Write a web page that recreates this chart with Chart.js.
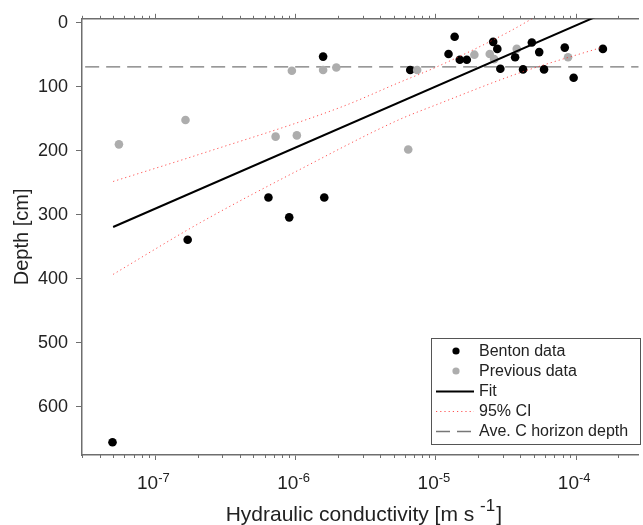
<!DOCTYPE html>
<html>
<head>
<meta charset="utf-8">
<script src="https://cdn.jsdelivr.net/npm/chart.js@4.4.1/dist/chart.umd.min.js"></script>
<style>
  body { margin: 0; background: #fff; }
</style>
</head>
<body>
<canvas id="chart_depth" width="643" height="525"></canvas>
<script>
var font_family = "'Liberation Sans', Arial, sans-serif";
var text_color = '#222';
var axis_color = '#6e6e6e';
var ci_color = 'rgba(255, 40, 40, 0.8)';

// hydraulic conductivity [m/s] and depth [cm]
var benton_k = [4.95e-8, 1.70e-7, 6.4e-7, 9.0e-7, 1.6e-6, 1.57e-6, 6.56e-6, 1.23e-5, 1.36e-5, 1.48e-5, 1.66e-5,
                2.56e-5, 2.74e-5, 2.88e-5, 3.67e-5, 4.18e-5, 4.83e-5, 5.45e-5, 5.90e-5, 8.29e-5, 9.59e-5, 1.55e-4];
var benton_depth = [655, 339, 273, 304, 273, 53, 74, 49, 22, 58, 58,
                    30, 41, 72, 54, 73, 31, 46, 73, 39, 86, 41];

var prev_k = [5.5e-8, 1.64e-7, 7.2e-7, 1.02e-6, 9.4e-7, 1.57e-6, 1.95e-6, 6.35e-6, 7.35e-6,
              1.88e-5, 2.42e-5, 2.60e-5, 3.77e-5, 8.75e-5];
var prev_depth = [190, 152, 178, 176, 75, 74, 70, 198, 74,
                  50, 49, 57, 41, 54];

var fit_k = [5e-8, 1.55e-4];
var fit_depth = [319, -14];

var ci_upper_k = [5e-8, 2.1e-7, 2.1e-6, 5.4e-6, 1.04e-5, 3.2e-5, 5.4e-5];
var ci_upper_depth = [248, 205, 132, 94, 68, 16, -12];
var ci_lower_k = [5e-8, 2.1e-7, 1.1e-6, 5.4e-6, 1.04e-5, 4.0e-5, 1.55e-4];
var ci_lower_depth = [393, 312, 228, 152, 127, 78, 38];

var c_horizon_depth = 69;

var x_min = 3.16e-8;
var x_max = 2.79e-4;
var x_decades = [1e-7, 1e-6, 1e-5, 1e-4];
var x_exponents = ['-7', '-6', '-5', '-4'];
var minor_steps = [2, 3, 4, 5, 6, 7, 8, 9];
var depth_ticks = [0, 100, 200, 300, 400, 500, 600];

var legend_labels = ['Benton data', 'Previous data', 'Fit', '95% CI', 'Ave. C horizon depth'];

function xy(xs, ys) {
  var pts = [];
  for (var i = 0; i < xs.length; i++) {
    pts.push({x: xs[i], y: ys[i]});
  }
  return pts;
}

// short ticks between decades, bottom and top
var minor_ticks = {
  id: 'minor_ticks',
  afterDraw: function (chart) {
    var ctx = chart.ctx;
    var xs = chart.scales.x;
    var area = chart.chartArea;
    ctx.save();
    ctx.strokeStyle = axis_color;
    ctx.lineWidth = 1;
    for (var d = -9; d <= -3; d++) {
      for (var m = 0; m < minor_steps.length; m++) {
        var v = minor_steps[m] * Math.pow(10, d);
        if (v <= xs.min || v >= xs.max) continue;
        var px = Math.round(xs.getPixelForValue(v)) + 0.5;
        ctx.beginPath();
        ctx.moveTo(px, area.bottom);
        ctx.lineTo(px, area.bottom + 3);
        ctx.moveTo(px, area.top);
        ctx.lineTo(px, area.top - 3);
        ctx.stroke();
      }
    }
    ctx.restore();
  }
};

// 10^n labels and the x title, both need superscripts
var x_text = {
  id: 'x_text',
  afterDraw: function (chart) {
    var ctx = chart.ctx;
    var xs = chart.scales.x;
    var area = chart.chartArea;
    ctx.save();
    ctx.fillStyle = text_color;
    ctx.textBaseline = 'alphabetic';
    ctx.textAlign = 'left';
    for (var i = 0; i < x_decades.length; i++) {
      var px = xs.getPixelForValue(x_decades[i]) - 2;
      ctx.font = '19px ' + font_family;
      var w1 = ctx.measureText('10').width;
      ctx.font = '13px ' + font_family;
      var w2 = ctx.measureText(x_exponents[i]).width;
      var x0 = px - (w1 + w2) / 2;
      ctx.font = '19px ' + font_family;
      ctx.fillText('10', x0, 489);
      ctx.font = '13px ' + font_family;
      ctx.fillText(x_exponents[i], x0 + w1, 482);
    }

    var main = 'Hydraulic conductivity [m s ';
    var sup = '-1';
    var tail = ']';
    ctx.font = '21px ' + font_family;
    var wm = ctx.measureText(main).width;
    var wt = ctx.measureText(tail).width;
    ctx.font = '17px ' + font_family;
    var ws = ctx.measureText(sup).width;
    var start = (area.left + area.right) / 2 + 3 - (wm + ws + wt) / 2;
    ctx.font = '21px ' + font_family;
    ctx.fillText(main, start, 521);
    ctx.fillText(tail, start + wm + ws + 1, 521);
    ctx.font = '17px ' + font_family;
    ctx.fillText(sup, start + wm, 511);
    ctx.restore();
  }
};

// boxed legend in the lower right corner
var box_legend = {
  id: 'box_legend',
  afterDraw: function (chart) {
    var ctx = chart.ctx;
    var left = 431, top = 338, width = 209, height = 106;
    ctx.save();
    ctx.fillStyle = '#fff';
    ctx.fillRect(left, top, width, height);
    ctx.strokeStyle = '#555';
    ctx.lineWidth = 1;
    ctx.strokeRect(left + 0.5, top + 0.5, width, height);

    var row = 0;
    chart.data.datasets.forEach(function (ds) {
      if (ds.in_legend === false) return;
      var y = 351 + row * 20;
      if (ds.showLine) {
        ctx.strokeStyle = ds.borderColor;
        ctx.lineWidth = ds.borderWidth;
        ctx.setLineDash(ds.borderDash || []);
        ctx.beginPath();
        ctx.moveTo(436, y + 0.5);
        ctx.lineTo(474, y + 0.5);
        ctx.stroke();
        ctx.setLineDash([]);
      } else {
        ctx.fillStyle = ds.backgroundColor;
        ctx.beginPath();
        ctx.arc(456, y, 3.6, 0, Math.PI * 2);
        ctx.fill();
      }
      ctx.fillStyle = text_color;
      ctx.font = '16px ' + font_family;
      ctx.textBaseline = 'middle';
      ctx.textAlign = 'left';
      ctx.fillText(ds.label, 479, y + 1);
      row++;
    });
    ctx.restore();
  }
};

function make_chart() {
  var ctx = document.getElementById('chart_depth').getContext('2d');
  return new Chart(ctx, {
    type: 'scatter',
    data: {
      datasets: [{
        label: legend_labels[0],
        data: xy(benton_k, benton_depth),
        backgroundColor: '#000',
        pointRadius: 4.3,
        pointBorderWidth: 0,
        order: 2
      }, {
        label: legend_labels[1],
        data: xy(prev_k, prev_depth),
        backgroundColor: '#adadad',
        pointRadius: 4.3,
        pointBorderWidth: 0,
        order: 1
      }, {
        label: legend_labels[2],
        data: xy(fit_k, fit_depth),
        showLine: true,
        borderColor: '#000',
        borderWidth: 2,
        pointRadius: 0,
        order: 0
      }, {
        label: legend_labels[3],
        data: xy(ci_upper_k, ci_upper_depth),
        showLine: true,
        borderColor: ci_color,
        borderWidth: 1,
        borderDash: [1.2, 3],
        cubicInterpolationMode: 'monotone',
        pointRadius: 0,
        order: 0
      }, {
        label: legend_labels[3],
        data: xy(ci_lower_k, ci_lower_depth),
        showLine: true,
        borderColor: ci_color,
        borderWidth: 1,
        borderDash: [1.2, 3],
        cubicInterpolationMode: 'monotone',
        pointRadius: 0,
        order: 0,
        in_legend: false
      }, {
        label: legend_labels[4],
        data: [{x: x_min, y: c_horizon_depth}, {x: x_max, y: c_horizon_depth}],
        showLine: true,
        borderColor: '#777',
        borderWidth: 1.3,
        borderDash: [14, 7],
        pointRadius: 0,
        order: 3
      }]
    },
    options: {
      responsive: false,
      animation: false,
      events: [],
      layout: { padding: 0 },
      plugins: {
        legend: { display: false },
        tooltip: { enabled: false }
      },
      scales: {
        x: {
          type: 'logarithmic',
          position: 'bottom',
          min: x_min,
          max: x_max,
          afterBuildTicks: function (scale) {
            scale.ticks = x_decades.map(function (v) { return {value: v, major: true}; });
          },
          afterFit: function (scale) { scale.height = 70; },
          ticks: { display: false },
          grid: { drawOnChartArea: false, tickLength: 5, tickColor: axis_color, tickWidth: 1 },
          border: { color: axis_color, width: 1.5 }
        },
        x2: {
          type: 'logarithmic',
          position: 'top',
          min: x_min,
          max: x_max,
          afterBuildTicks: function (scale) {
            scale.ticks = x_decades.map(function (v) { return {value: v, major: true}; });
          },
          afterFit: function (scale) { scale.height = 18; },
          ticks: { display: false },
          grid: { drawOnChartArea: false, tickLength: 5, tickColor: axis_color, tickWidth: 1 },
          border: { color: axis_color, width: 1.5 }
        },
        y: {
          type: 'linear',
          reverse: true,
          min: -6,
          max: 675,
          afterBuildTicks: function (scale) {
            scale.ticks = depth_ticks.map(function (v) { return {value: v}; });
          },
          afterFit: function (scale) { scale.width = 82; },
          ticks: {
            color: text_color,
            padding: 8,
            font: { family: font_family, size: 18 }
          },
          grid: { drawOnChartArea: false, tickLength: 6, tickColor: axis_color, tickWidth: 1 },
          border: { color: axis_color, width: 1.5 },
          title: {
            display: true,
            text: 'Depth [cm]',
            color: text_color,
            padding: { top: 10, bottom: 0 },
            font: { family: font_family, size: 20 }
          }
        }
      }
    },
    plugins: [minor_ticks, x_text, box_legend]
  });
}

var chart = make_chart();
</script>
</body>
</html>
